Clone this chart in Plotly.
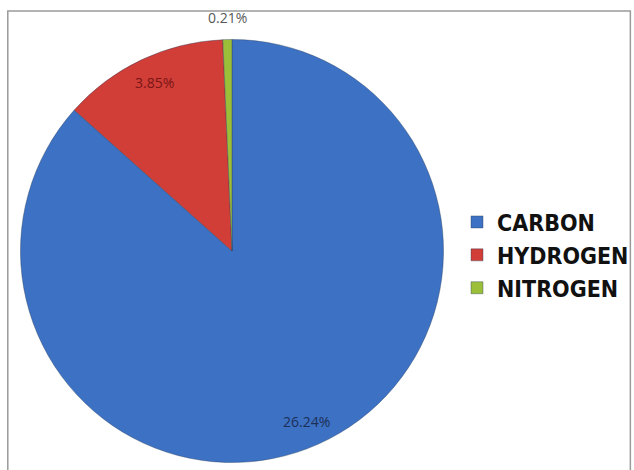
import math
import plotly.graph_objects as go

elements = ["CARBON", "HYDROGEN", "NITROGEN"]
values = [26.24, 3.85, 0.21]
value_labels = ["26.24%", "3.85%", "0.21%"]
colors = ["#3c71c3", "#d13d37", "#9cbf3a"]
text_colors = ["#1c2f58", "#7a1616", "#595959"]

W, H = 634, 470
cx, cy, r = 238, 251, 217  # pie centre / radius in pixels (from top-left)

fig = go.Figure(go.Pie(
    labels=elements,
    values=values,
    sort=False,
    direction="clockwise",
    rotation=0,
    marker=dict(colors=colors, line=dict(color="#2b3f5c", width=0.4)),
    textinfo="none",
    hoverinfo="label+value",
    domain=dict(x=[(cx - r) / W, (cx + r) / W], y=[(H - cy - r) / H, (H - cy + r) / H]),
))

# value labels placed at each slice's mid angle (computed from the data)
total = sum(values)
cum = 0.0
annotations = []
for v, lab, tc in zip(values, value_labels, text_colors):
    mid = (cum + v / 2) / total * 2 * math.pi
    cum += v
    frac = v / total
    dist = 0.86 * r if frac > 0.05 else r + 17
    px = cx + dist * math.sin(mid)
    py = cy - dist * math.cos(mid)
    annotations.append(dict(
        x=px / W, y=(H - py) / H, xref="paper", yref="paper",
        text=lab, showarrow=False, xanchor="center", yanchor="middle",
        font=dict(family="Open Sans, Liberation Sans, sans-serif", size=14, color=tc),
    ))

fig.update_layout(
    width=W, height=H,
    margin=dict(l=0, r=0, t=0, b=0),
    paper_bgcolor="white",
    plot_bgcolor="white",
    showlegend=True,
    annotations=annotations,
    legend=dict(
        x=469 / W, xanchor="left",
        y=(H - 255) / H, yanchor="middle",
        font=dict(family="DejaVu Sans Condensed, Liberation Sans Narrow, DejaVu Sans",
                  size=23, color="#111111", weight="bold"),
        tracegroupgap=0,
        bgcolor="rgba(0,0,0,0)",
    ),
    shapes=[dict(type="rect", xref="paper", yref="paper",
                 x0=8 / W, x1=1.02, y0=-0.02, y1=(H - 11) / H,
                 line=dict(color="#9a9a9a", width=1.5), fillcolor="rgba(0,0,0,0)", layer="below")],
)

fig.write_html(
    "out.html",
    config={"displayModeBar": False},
    post_script="document.body.style.margin='0';document.body.style.overflow='hidden';",
)
